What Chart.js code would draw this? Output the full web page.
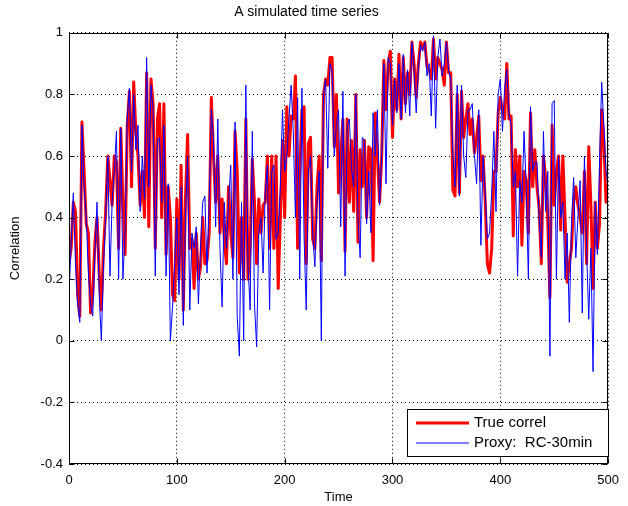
<!DOCTYPE html>
<html>
<head>
<meta charset="utf-8">
<script src="https://cdn.jsdelivr.net/npm/chart.js@4.4.1/dist/chart.umd.min.js"></script>
<style>
  body { margin: 0; background: #fff; }
  #wrap { width: 628px; height: 506px; position: relative; }
</style>
</head>
<body>
<div id="wrap"><canvas id="chart"></canvas></div>
<script>
// sample times (every 2 steps)
var timeSteps = [
  0,2,4,6,8,10,12,14,16,18, 20,22,24,26,28,30,32,34,36,38,
  40,42,44,46,48,50,52,54,56,58, 60,62,64,66,68,70,72,74,76,78,
  80,82,84,86,88,90,92,94,96,98, 100,102,104,106,108,110,112,114,116,118,
  120,122,124,126,128,130,132,134,136,138, 140,142,144,146,148,150,152,154,156,158,
  160,162,164,166,168,170,172,174,176,178, 180,182,184,186,188,190,192,194,196,198,
  200,202,204,206,208,210,212,214,216,218, 220,222,224,226,228,230,232,234,236,238,
  240,242,244,246,248,250,252,254,256,258, 260,262,264,266,268,270,272,274,276,278,
  280,282,284,286,288,290,292,294,296,298, 300,302,304,306,308,310,312,314,316,318,
  320,322,324,326,328,330,332,334,336,338, 340,342,344,346,348,350,352,354,356,358,
  360,362,364,366,368,370,372,374,376,378, 380,382,384,386,388,390,392,394,396,398,
  400,402,404,406,408,410,412,414,416,418, 420,422,424,426,428,430,432,434,436,438,
  440,442,444,446,448,450,452,454,456,458, 460,462,464,466,468,470,472,474,476,478,
  480,482,484,486,488,490,492,494,496,498, 500
];

// true correlation (red)
var trueCorr = [
  0.25,0.30,0.45,0.42,0.15,0.08,0.71,0.55,0.38,0.35,
  0.09,0.15,0.32,0.40,0.22,0.10,0.30,0.42,0.60,0.52,
  0.44,0.60,0.58,0.30,0.69,0.45,0.28,0.70,0.81,0.50,
  0.84,0.68,0.60,0.44,0.55,0.40,0.87,0.37,0.85,0.77,
  0.30,0.72,0.77,0.40,0.77,0.28,0.50,0.40,0.15,0.13,
  0.46,0.20,0.57,0.10,0.46,0.67,0.30,0.33,0.17,0.35,
  0.20,0.24,0.40,0.25,0.26,0.35,0.79,0.60,0.45,0.60,
  0.35,0.46,0.33,0.25,0.50,0.35,0.27,0.68,0.55,0.22,
  0.40,0.20,0.72,0.20,0.30,0.59,0.45,0.25,0.46,0.35,
  0.44,0.45,0.60,0.30,0.60,0.30,0.60,0.17,0.40,0.65,
  0.40,0.76,0.60,0.73,0.72,0.86,0.30,0.55,0.75,0.76,
  0.25,0.64,0.66,0.33,0.30,0.50,0.60,0.26,0.80,0.85,
  0.83,0.92,0.92,0.63,0.80,0.48,0.60,0.72,0.29,0.72,
  0.45,0.65,0.42,0.80,0.32,0.62,0.50,0.65,0.40,0.63,
  0.62,0.26,0.74,0.60,0.45,0.60,0.91,0.75,0.90,0.94,
  0.66,0.85,0.75,0.93,0.72,0.92,0.77,0.87,0.80,0.97,
  0.90,0.79,0.90,0.97,0.95,0.97,0.89,0.88,0.85,0.98,
  0.85,0.92,0.90,0.88,0.83,0.97,0.87,0.87,0.49,0.47,
  0.80,0.48,0.81,0.66,0.72,0.77,0.67,0.72,0.61,0.66,
  0.73,0.52,0.60,0.45,0.25,0.22,0.30,0.55,0.55,0.74,
  0.79,0.75,0.72,0.90,0.72,0.73,0.34,0.62,0.50,0.60,
  0.31,0.55,0.52,0.35,0.74,0.50,0.62,0.50,0.43,0.25,
  0.60,0.53,0.39,0.14,0.70,0.44,0.55,0.60,0.36,0.60,
  0.40,0.19,0.25,0.30,0.45,0.50,0.44,0.40,0.35,0.55,
  0.25,0.63,0.44,0.17,0.45,0.30,0.38,0.75,0.65,0.45,
  0.48
];

// proxy RC-30min (blue)
var proxyCorr = [
  0.15,0.32,0.48,0.25,0.12,0.06,0.70,0.50,0.40,0.22,
  0.12,0.08,0.28,0.45,0.15,0.00,0.25,0.40,0.60,0.21,
  0.45,0.55,0.68,0.20,0.69,0.20,0.35,0.72,0.82,0.55,
  0.80,0.62,0.70,0.42,0.60,0.46,0.92,0.50,0.83,0.75,
  0.21,0.65,0.66,0.45,0.70,0.21,0.51,0.00,0.11,0.25,
  0.40,0.15,0.50,0.05,0.40,0.60,0.10,0.35,0.30,0.37,
  0.12,0.30,0.45,0.47,0.22,0.45,0.75,0.65,0.37,0.72,
  0.30,0.11,0.45,0.30,0.45,0.57,0.20,0.71,0.08,-0.05,
  0.45,0.00,0.83,0.25,0.10,0.68,0.12,-0.02,0.35,0.40,
  0.22,0.48,0.57,0.10,0.55,0.57,0.33,0.35,0.50,0.75,
  0.55,0.60,0.72,0.83,0.68,0.40,0.79,0.20,0.82,0.34,
  0.10,0.55,0.60,0.35,0.24,0.45,0.55,0.00,0.80,0.85,
  0.56,0.90,0.88,0.60,0.70,0.75,0.37,0.81,0.21,0.70,
  0.72,0.56,0.50,0.80,0.40,0.27,0.66,0.65,0.38,0.55,
  0.35,0.74,0.60,0.75,0.44,0.60,0.90,0.51,0.92,0.90,
  0.70,0.85,0.74,0.90,0.72,0.93,0.74,0.88,0.73,0.97,
  0.88,0.74,0.88,0.96,0.94,0.97,0.86,0.90,0.73,0.99,
  0.69,0.92,0.98,0.86,0.90,0.97,0.88,0.85,0.60,0.50,
  0.83,0.47,0.83,0.60,0.53,0.75,0.75,0.77,0.60,0.51,
  0.75,0.31,0.60,0.48,0.33,0.35,0.48,0.68,0.42,0.80,
  0.85,0.68,0.82,0.88,0.74,0.70,0.50,0.55,0.21,0.52,
  0.45,0.68,0.50,0.20,0.76,0.55,0.58,0.58,0.40,0.27,
  0.68,0.42,0.55,-0.05,0.77,0.78,0.20,0.60,0.40,0.45,
  0.20,0.35,0.06,0.38,0.53,0.27,0.40,0.52,0.09,0.60,
  0.30,0.07,0.30,-0.10,0.45,0.28,0.58,0.84,0.70,0.55,
  0.50
];

var xTicks = [0, 100, 200, 300, 400, 500];
var xTickLabels = ["0", "100", "200", "300", "400", "500"];
var yTicks = [-0.4, -0.2, 0, 0.2, 0.4, 0.6, 0.8, 1];
var yTickLabels = ["-0.4", "-0.2", "0", "0.2", "0.4", "0.6", "0.8", "1"];

var FONT = "'Liberation Sans', Arial, Helvetica, sans-serif";

function toPoints(vals) {
  return timeSteps.map(function(t, i) { return {x: t, y: vals[i]}; });
}

// box, inward tick marks and the legend, matlab style
var boxPlugin = {
  id: 'boxPlugin',
  afterDatasetsDraw: function(chart) {
    var ctx = chart.ctx, a = chart.chartArea;
    var xs = chart.scales.x, ys = chart.scales.y;
    var L = Math.round(a.left) + 0.5, R = Math.round(a.right) - 0.5;
    var T = Math.round(a.top) + 0.5, B = Math.round(a.bottom) - 0.5;
    ctx.save();
    ctx.strokeStyle = '#000';
    ctx.lineWidth = 1;
    ctx.setLineDash([]);
    ctx.strokeRect(L, T, R - L, B - T);
    ctx.beginPath();
    xTicks.forEach(function(v) {
      var px = Math.round(xs.getPixelForValue(v)) + 0.5;
      ctx.moveTo(px, B); ctx.lineTo(px, B - 5);
      ctx.moveTo(px, T); ctx.lineTo(px, T + 5);
    });
    yTicks.forEach(function(v) {
      var py = Math.round(ys.getPixelForValue(v)) + 0.5;
      ctx.moveTo(L, py); ctx.lineTo(L + 5, py);
      ctx.moveTo(R, py); ctx.lineTo(R - 5, py);
    });
    ctx.stroke();

    // legend box
    var lx = 407.5, ly = 409.5, lw = 201, lh = 47;
    ctx.fillStyle = '#fff';
    ctx.fillRect(lx, ly, lw, lh);
    ctx.strokeRect(lx, ly, lw, lh);
    var ds = chart.data.datasets;
    var rows = [423, 443];
    ctx.font = '15px ' + FONT;
    ctx.textBaseline = 'middle';
    ctx.textAlign = 'left';
    ds.forEach(function(d, i) {
      ctx.beginPath();
      ctx.strokeStyle = d.borderColor;
      ctx.lineWidth = d.borderWidth;
      ctx.moveTo(416, rows[i]); ctx.lineTo(469, rows[i]);
      ctx.stroke();
      ctx.fillStyle = '#000';
      ctx.fillText(d.label, 474, rows[i]);
    });
    ctx.restore();
  }
};

new Chart(document.getElementById('chart'), {
  type: 'line',
  data: {
    datasets: [
      {
        label: 'True correl',
        data: toPoints(trueCorr),
        borderColor: '#ff0000',
        borderWidth: 3,
        borderJoinStyle: 'round',
        pointRadius: 0,
        tension: 0,
        order: 2
      },
      {
        label: 'Proxy:  RC-30min',
        data: toPoints(proxyCorr),
        borderColor: '#0000ff',
        borderWidth: 1,
        pointRadius: 0,
        tension: 0,
        order: 1
      }
    ]
  },
  options: {
    responsive: true,
    maintainAspectRatio: false,
    animation: false,
    layout: { padding: { left: 0, right: 15, top: 0, bottom: 0 } },
    plugins: {
      legend: { display: false },
      tooltip: { enabled: false },
      title: {
        display: true,
        text: 'A simulated time series',
        color: '#000',
        font: { family: FONT, size: 14, weight: 'normal' },
        padding: { top: 4, bottom: 12 }
      }
    },
    scales: {
      x: {
        type: 'linear',
        min: 0, max: 500,
        afterBuildTicks: function(s) { s.ticks = xTicks.map(function(v) { return {value: v}; }); },
        afterFit: function(s) { s.height = 42; },
        ticks: {
          color: '#000',
          padding: 9,
          maxRotation: 0,
          autoSkip: false,
          font: { family: FONT, size: 13 },
          callback: function(v, i) { return xTickLabels[i]; }
        },
        grid: { color: '#000', drawTicks: false, lineWidth: 1 },
        border: { display: false, dash: [1, 3] },
        title: {
          display: true, text: 'Time', color: '#000',
          font: { family: FONT, size: 13 },
          padding: { top: 0, bottom: 1 }
        }
      },
      y: {
        type: 'linear',
        min: -0.4, max: 1,
        afterBuildTicks: function(s) { s.ticks = yTicks.map(function(v) { return {value: v}; }); },
        afterFit: function(s) { s.width = 69; },
        ticks: {
          color: '#000',
          padding: 6,
          autoSkip: false,
          font: { family: FONT, size: 13 },
          callback: function(v, i) { return yTickLabels[i]; }
        },
        grid: { color: '#000', drawTicks: false, lineWidth: 1 },
        border: { display: false, dash: [1, 3] },
        title: {
          display: true, text: 'Correlation', color: '#000',
          font: { family: FONT, size: 13 },
          padding: { top: 8, bottom: 0 }
        }
      }
    }
  },
  plugins: [boxPlugin]
});
</script>
</body>
</html>
